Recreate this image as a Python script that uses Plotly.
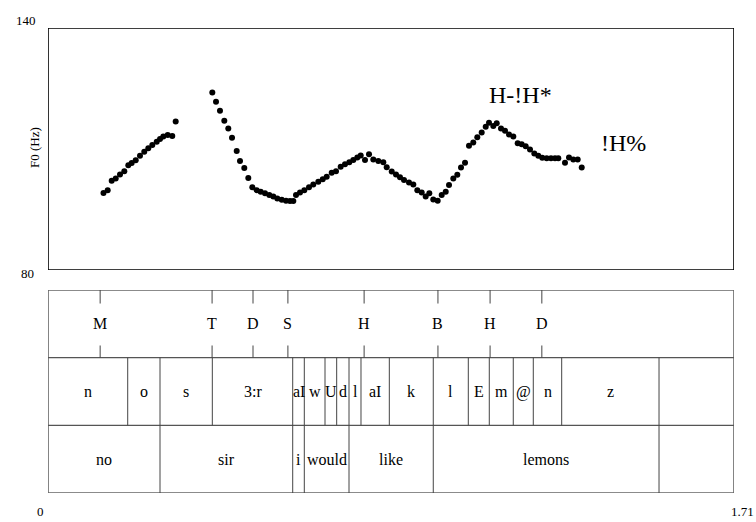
import plotly.graph_objects as go

# ---------------- data ----------------
# F0 contour, voiced stretch 1 ("no")
f0_time_1 = [0.1383, 0.1488, 0.1588, 0.1688, 0.1795, 0.1902, 0.2002, 0.2086, 0.2186, 0.2293,
             0.2400, 0.2500, 0.2600, 0.2710, 0.2792, 0.2874, 0.2984, 0.3098, 0.3183]
f0_hz_1 = [99.1, 99.8, 102.1, 102.7, 103.7, 104.5, 106.0, 106.5, 107.2, 108.3,
           109.3, 110.2, 111.0, 111.8, 112.5, 113.1, 113.5, 113.2, 116.8]

# F0 contour, voiced stretch 2 ("sir I would like lemons")
f0_time_2 = [0.4096, 0.4188, 0.4287, 0.4395, 0.4494, 0.4587, 0.4704, 0.4786, 0.4893, 0.4993,
             0.5093, 0.5202, 0.5302, 0.5409, 0.5516, 0.5616, 0.5716, 0.5826, 0.5933, 0.6032,
             0.6115, 0.6182, 0.6282, 0.6389, 0.6506, 0.6613, 0.6738, 0.6848, 0.6947, 0.7072,
             0.7179, 0.7296, 0.7403, 0.7511, 0.7610, 0.7710, 0.7795, 0.7902, 0.8002, 0.8109,
             0.8234, 0.8358, 0.8443, 0.8568, 0.8675, 0.8774, 0.8874, 0.8999, 0.9106, 0.9206,
             0.9315, 0.9415, 0.9505, 0.9604, 0.9714, 0.9814, 0.9914, 0.9996, 1.0103, 1.0203,
             1.0295, 1.0395, 1.0494, 1.0601, 1.0701, 1.0811, 1.0911, 1.0993, 1.1100, 1.1185,
             1.1292, 1.1392, 1.1492, 1.1599, 1.1708, 1.1808, 1.1908, 1.2015, 1.2122, 1.2222,
             1.2321, 1.2431, 1.2538, 1.2638, 1.2720, 1.2887, 1.2987, 1.3094, 1.3204, 1.3304]
f0_hz_2 = [124.0, 121.7, 119.5, 117.0, 115.1, 112.8, 109.5, 107.0, 105.3, 102.8,
           100.5, 99.8, 99.4, 99.0, 98.6, 98.2, 97.7, 97.4, 97.2, 97.1,
           97.1, 98.6, 99.2, 99.8, 100.5, 101.2, 101.9, 102.5, 103.1, 104.1,
           104.5, 105.6, 106.2, 106.7, 107.3, 107.9, 108.4, 107.3, 108.7, 107.4,
           107.0, 106.7, 105.5, 104.4, 103.7, 103.0, 102.3, 101.7, 101.2, 99.8,
           99.2, 98.2, 99.0, 97.5, 97.2, 98.6, 99.4, 101.1, 102.7, 103.6,
           105.4, 106.6, 110.8, 111.6, 112.9, 114.1, 115.5, 116.5, 115.7, 116.4,
           115.1, 114.5, 113.6, 113.1, 111.4, 111.2, 110.7, 109.9, 108.9, 108.3,
           107.8, 107.7, 107.7, 107.7, 107.7, 106.6, 107.9, 107.4, 107.4, 105.4]

# Tone (break) tier: point labels
tone_labels = ["M", "T", "D", "S", "H", "B", "H", "D"]
tone_times = [0.130, 0.409, 0.511, 0.598, 0.788, 0.972, 1.102, 1.231]

# Phone tier: interval boundaries and labels
phone_bounds = [0.0, 0.1987, 0.2792, 0.4096, 0.6100, 0.6389, 0.6905, 0.7196, 0.7503,
                0.7802, 0.8508, 0.9604, 1.0477, 1.1000, 1.1598, 1.2097, 1.2805, 1.5231, 1.71]
phone_labels = ["n", "o", "s", "3:r", "aI", "w", "U", "d", "l", "aI", "k",
                "l", "E", "m", "@", "n", "z", ""]

# Word tier
word_bounds = [0.0, 0.2792, 0.6100, 0.6389, 0.7503, 0.9604, 1.5231, 1.71]
word_labels = ["no", "sir", "i", "would", "like", "lemons", ""]

# Accent annotations on the contour
accent_texts = ["H-!H*", "!H%"]

# Axis ranges / labels
t_min, t_max = 0.0, 1.71
f_min, f_max = 80, 140

# ---------------- layout geometry (window pixel frame) ----------------
W, H = 756, 522
X_LEFT, X_RIGHT = 48, 734
Y_TOP, Y_BOTTOM = 28, 493
PW, PH = X_RIGHT - X_LEFT, Y_BOTTOM - Y_TOP
ML, MT, MR, MB = X_LEFT, Y_TOP, W - X_RIGHT, H - Y_BOTTOM


def py(ypix):
    return (Y_BOTTOM - ypix) / PH


def px(xpix):
    return (xpix - X_LEFT) / PW


SERIF = "Liberation Serif, Times New Roman, serif"

fig = go.Figure()
for tt, ff in [(f0_time_1, f0_hz_1), (f0_time_2, f0_hz_2)]:
    fig.add_trace(go.Scatter(x=tt, y=ff, mode="markers",
                             marker=dict(color="black", size=6),
                             xaxis="x", yaxis="y", hoverinfo="skip", showlegend=False))

# invisible trace to activate the tier axis
fig.add_trace(go.Scatter(x=[t_min], y=[0], mode="markers", marker=dict(opacity=0),
                         xaxis="x2", yaxis="y2", showlegend=False, hoverinfo="skip"))

shapes = []
# F0 box
shapes.append(dict(type="rect", xref="x", yref="y", x0=t_min, x1=t_max, y0=f_min, y1=f_max,
                   line=dict(color="black", width=1.6), layer="above"))
# tier box
TL = dict(color="#444", width=1)
shapes.append(dict(type="rect", xref="x2", yref="y2", x0=t_min, x1=t_max, y0=0, y1=3,
                   line=dict(color="#666", width=1.6)))
for yy in (1, 2):
    shapes.append(dict(type="line", xref="x2", yref="y2", x0=t_min, x1=t_max, y0=yy, y1=yy,
                       line=dict(color="#555", width=1.4)))
for b in phone_bounds[1:-1]:
    shapes.append(dict(type="line", xref="x2", yref="y2", x0=b, x1=b, y0=1, y1=2, line=TL))
for b in word_bounds[1:-1]:
    shapes.append(dict(type="line", xref="x2", yref="y2", x0=b, x1=b, y0=0, y1=1, line=TL))
for t in tone_times:
    shapes.append(dict(type="line", xref="x2", yref="y2", x0=t, x1=t, y0=2.8, y1=3, line=TL))
    shapes.append(dict(type="line", xref="x2", yref="y2", x0=t, x1=t, y0=2.0, y1=2.18, line=TL))

CM = dict(xanchor="center", yanchor="middle", showarrow=False)
ann = []
for lab, t in zip(tone_labels, tone_times):
    ann.append(dict(x=t, y=2.5, xref="x2", yref="y2", text=lab, **CM,
                    font=dict(family=SERIF, size=16, color="black")))
for i, lab in enumerate(phone_labels):
    if lab:
        ann.append(dict(x=(phone_bounds[i] + phone_bounds[i + 1]) / 2, y=1.5, xref="x2", yref="y2",
                        text=lab, **CM, font=dict(family=SERIF, size=16, color="black")))
for i, lab in enumerate(word_labels):
    if lab:
        ann.append(dict(x=(word_bounds[i] + word_bounds[i + 1]) / 2, y=0.5, xref="x2", yref="y2",
                        text=lab, **CM, font=dict(family=SERIF, size=16, color="black")))

# accent labels
ann.append(dict(x=px(520), y=py(95), xref="paper", yref="paper", text=accent_texts[0], **CM,
                font=dict(family=SERIF, size=24, color="black")))
ann.append(dict(x=px(623), y=py(143), xref="paper", yref="paper", text=accent_texts[1], **CM,
                font=dict(family=SERIF, size=24, color="black")))

# axis labels
ann.append(dict(x=px(26), y=py(20), xref="paper", yref="paper", text=str(f_max), **CM,
                font=dict(family=SERIF, size=13, color="black")))
ann.append(dict(x=px(27), y=py(273), xref="paper", yref="paper", text=str(f_min), **CM,
                font=dict(family=SERIF, size=13, color="black")))
ann.append(dict(x=px(40), y=py(511), xref="paper", yref="paper", text="0", **CM,
                font=dict(family=SERIF, size=13, color="black")))
ann.append(dict(x=px(742), y=py(511), xref="paper", yref="paper", text=str(t_max), **CM,
                font=dict(family=SERIF, size=13, color="black")))
ann.append(dict(x=px(34), y=py(148), xref="paper", yref="paper", text="F0 (Hz)", textangle=-90,
                **CM, font=dict(family=SERIF, size=13, color="black")))

ax_common = dict(range=[t_min, t_max], showticklabels=False, showgrid=False, zeroline=False,
                 ticks="", showline=False, fixedrange=True)
fig.update_layout(
    width=W, height=H,
    margin=dict(l=ML, r=MR, t=MT, b=MB, pad=0),
    paper_bgcolor="white", plot_bgcolor="white",
    xaxis=dict(**ax_common, anchor="y"),
    xaxis2=dict(**ax_common, anchor="y2", matches="x"),
    yaxis=dict(range=[f_min, f_max], domain=[py(270), 1.0], showticklabels=False, showgrid=False,
               zeroline=False, ticks="", showline=False, fixedrange=True),
    yaxis2=dict(range=[0, 3], domain=[0.0, py(290)], showticklabels=False, showgrid=False,
                zeroline=False, ticks="", showline=False, fixedrange=True),
    shapes=shapes,
    annotations=ann,
    showlegend=False,
    hovermode=False,
)

fig.write_html("out.html",
               config={"displayModeBar": False, "staticPlot": True},
               post_script="document.body.style.margin='0';document.body.style.overflow='hidden';")
